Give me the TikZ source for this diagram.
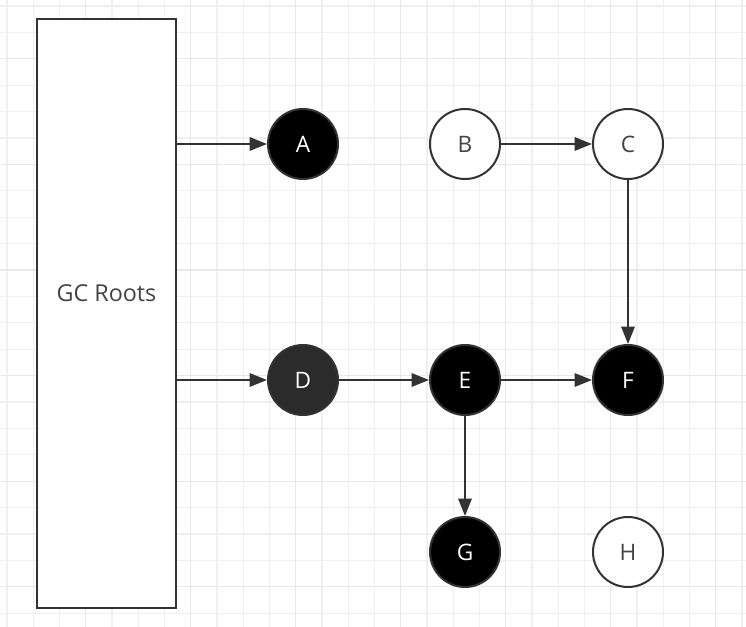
\documentclass[tikz,border=0pt]{standalone}
\usepackage{fontspec}
\setmainfont{Open Sans}
\usetikzlibrary{arrows.meta}
\definecolor{strokec}{HTML}{333333}
\definecolor{textc}{HTML}{444444}
\definecolor{gridminor}{HTML}{EFEFEF}
\definecolor{gridmajor}{HTML}{E8E8E8}
\definecolor{dfill}{HTML}{2B2B2B}
\tikzset{
  minorline/.style={draw=gridminor, line width=0.9pt},
  majorline/.style={draw=gridmajor, line width=0.9pt},
  rootbox/.style={draw=strokec, fill=white, line width=1.6pt, minimum width=104pt, minimum height=442pt, inner sep=0pt},
  rootlabel/.style={text=textc, inner sep=0pt, font=\fontsize{17.5pt}{20pt}\selectfont},
  wnode/.style={circle, draw=strokec, fill=white, line width=1.5pt, minimum size=52.5pt, inner sep=0pt, text=textc, font=\fontsize{17pt}{20pt}\selectfont},
  bnode/.style={circle, draw=strokec, fill=black, line width=1.5pt, minimum size=52.5pt, inner sep=0pt, text=white, font=\fontsize{17pt}{20pt}\selectfont},
  arr/.style={draw=strokec, line width=1.5pt, -{Triangle[length=13pt, width=10pt]}},
}
\begin{document}
\begin{tikzpicture}[x=0.75pt, y=-0.75pt]
\useasboundingbox (0,0) rectangle (746,627);
\fill[white] (0,0) rectangle (746,627);
\foreach \i in {0,...,28} \draw[minorline] ({7+26.25*\i},0) -- ({7+26.25*\i},627);
\foreach \j in {0,...,23} \draw[minorline] (0,{6+26.4*\j}) -- (746,{6+26.4*\j});
\foreach \i in {3,7,...,27} \draw[majorline] ({7+26.25*\i},0) -- ({7+26.25*\i},627);
\foreach \j in {2,6,...,22} \draw[majorline] (0,{6+26.4*\j}) -- (746,{6+26.4*\j});

\node[rootbox] (gc) at (106.5,313.5) {};
\node[rootlabel] (gclabel) at (106.5,293) {GC Roots};
\node[bnode] (A) at (303,144) {A};
\node[wnode] (B) at (465,144) {B};
\node[wnode] (C) at (628,144) {C};
\node[bnode, fill=dfill] (D) at (303,380) {D};
\node[bnode] (E) at (465,380) {E};
\node[bnode] (F) at (628,380) {F};
\node[bnode] (G) at (465,552) {G};
\node[wnode] (H) at (628,552) {H};

\draw[arr] (gc.east |- A) -- (A);
\draw[arr] (gc.east |- D) -- (D);
\draw[arr] (B) -- (C);
\draw[arr] (C) -- (F);
\draw[arr] (D) -- (E);
\draw[arr] (E) -- (F);
\draw[arr] (E) -- (G);
\end{tikzpicture}
\end{document}
